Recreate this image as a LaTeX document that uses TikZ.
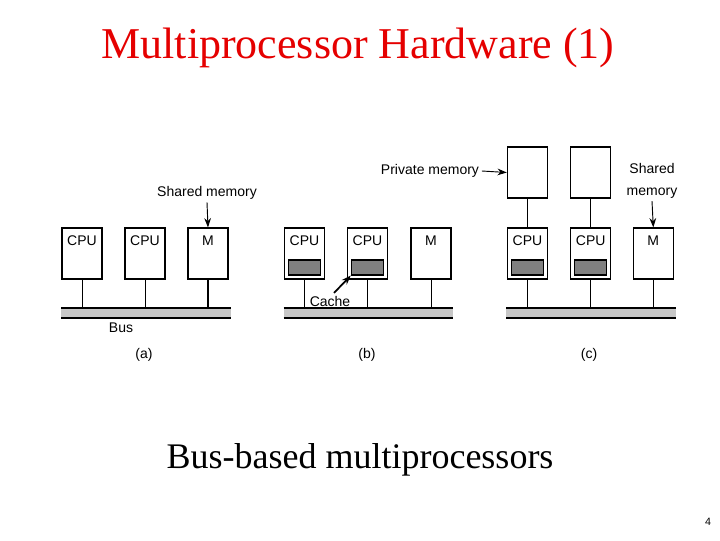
\documentclass[tikz,border=0pt]{standalone}
\usepackage{fontspec}
\setmainfont{Liberation Serif}
\setsansfont{Liberation Sans}
\usepackage{xcolor}
\usepackage{tikz}
\usetikzlibrary{arrows.meta,positioning}
\tikzset{
  unit/.style={draw, line width=1.1pt, fill=white, minimum width=30pt, minimum height=38pt, inner sep=0pt},
  cachebox/.style={draw, line width=1.1pt, fill=black!50, minimum width=24pt, minimum height=11pt, inner sep=0pt},
  bus/.style={fill=black!22, minimum width=127pt, minimum height=6.5pt, inner sep=0pt},
  lbl/.style={font=\sffamily\fontsize{10.5}{12}\selectfont, inner sep=2pt, align=center},
  link/.style={line width=0.7pt},
  pointer/.style={-{Stealth[length=7pt,width=5pt]}, line width=0.7pt}
}

\begin{document}
\begin{tikzpicture}[x=0.75pt, y=-0.75pt,
    busline/.style={line width=1.4pt},
    title/.style={font=\fontsize{33}{38}\selectfont, text=red!90!black},
    caption/.style={font=\fontsize{27}{31}\selectfont}
  ]
    \path[use as bounding box] (0,0) rectangle (720,540);

    \node[title] (ttl) at (358,48) {Multiprocessor Hardware (1)};

    % (a) shared memory only
    \node[unit] (a1) at (82,253.5) {};
    \node[unit] (a2) at (145,253.5) {};
    \node[unit] (am) at (208,253.5) {};
    \node[lbl, below=4pt of a1.north] {CPU};
    \node[lbl, below=4pt of a2.north] {CPU};
    \node[lbl, below=4pt of am.north] {M};
    \node[bus] (busa) at (146,313) {};
    \draw[busline] (busa.north west) -- (busa.north east);
    \draw[busline] (busa.south west) -- (busa.south east);
    \draw[link] (a1.south) -- (a1.south |- busa.north);
    \draw[link] (a2.south) -- (a2.south |- busa.north);
    \draw[line width=1.3pt] (am.south) -- (am.south |- busa.north);
    \node[lbl] (sma) at (207,193) {Shared memory};
    \draw[pointer] (sma.south) -- (am.north);
    \node[lbl] (buslbl) at (121,328) {Bus};
    \node[lbl] (capa) at (144,355) {(a)};

    % (b) caches
    \node[unit] (b1) at (304.5,253.5) {};
    \node[unit] (b2) at (367.5,253.5) {};
    \node[unit] (bm) at (431,253.5) {};
    \node[lbl, below=4pt of b1.north] {CPU};
    \node[lbl, below=4pt of b2.north] {CPU};
    \node[lbl, below=4pt of bm.north] {M};
    \node[cachebox] (kb1) at (304.5,267.5) {};
    \node[cachebox] (kb2) at (367.5,267.5) {};
    \node[bus] (busb) at (368.5,313) {};
    \draw[busline] (busb.north west) -- (busb.north east);
    \draw[busline] (busb.south west) -- (busb.south east);
    \draw[link] (b1.south) -- (b1.south |- busb.north);
    \draw[link] (b2.south) -- (b2.south |- busb.north);
    \draw[link] (bm.south) -- (bm.south |- busb.north);
    \node[lbl, fill=white, inner sep=1pt] (cachelbl) at (330,301) {Cache};
    \draw[-{Stealth[length=7pt,width=5pt]}, line width=1.3pt] ([xshift=3pt,yshift=1pt]cachelbl.north) -- (kb2.south west);
    \node[lbl] (capb) at (367,355) {(b)};

    % (c) caches plus private memories
    \node[unit] (p1) at (527.5,172.5) {};
    \node[unit] (p2) at (590.7,172.5) {};
    \node[unit] (c1) at (527.5,253.5) {};
    \node[unit] (c2) at (590.7,253.5) {};
    \node[unit] (cm) at (653.3,253.5) {};
    \node[lbl, below=4pt of c1.north] {CPU};
    \node[lbl, below=4pt of c2.north] {CPU};
    \node[lbl, below=4pt of cm.north] {M};
    \node[cachebox] (kc1) at (527.5,267.5) {};
    \node[cachebox] (kc2) at (590.7,267.5) {};
    \draw[link] (p1) -- (c1);
    \draw[link] (p2) -- (c2);
    \node[bus] (busc) at (591,313) {};
    \draw[busline] (busc.north west) -- (busc.north east);
    \draw[busline] (busc.south west) -- (busc.south east);
    \draw[link] (c1.south) -- (c1.south |- busc.north);
    \draw[link] (c2.south) -- (c2.south |- busc.north);
    \draw[link] (cm.south) -- (cm.south |- busc.north);
    \node[lbl] (pml) at (430,171) {Private memory};
    \draw[pointer] (pml.east) -- (p1.west);
    \node[lbl, font=\sffamily\fontsize{10.5}{16}\selectfont] (smc) at (652,181) {Shared\\memory};
    \draw[pointer] (smc.south) -- (cm.north);
    \node[lbl] (capc) at (589,355) {(c)};

    \node[caption] (sub) at (360,460) {Bus-based multiprocessors};
    \node[lbl, font=\sffamily\fontsize{8}{9}\selectfont] (pg) at (708,522) {4};
  \end{tikzpicture}
\end{document}
